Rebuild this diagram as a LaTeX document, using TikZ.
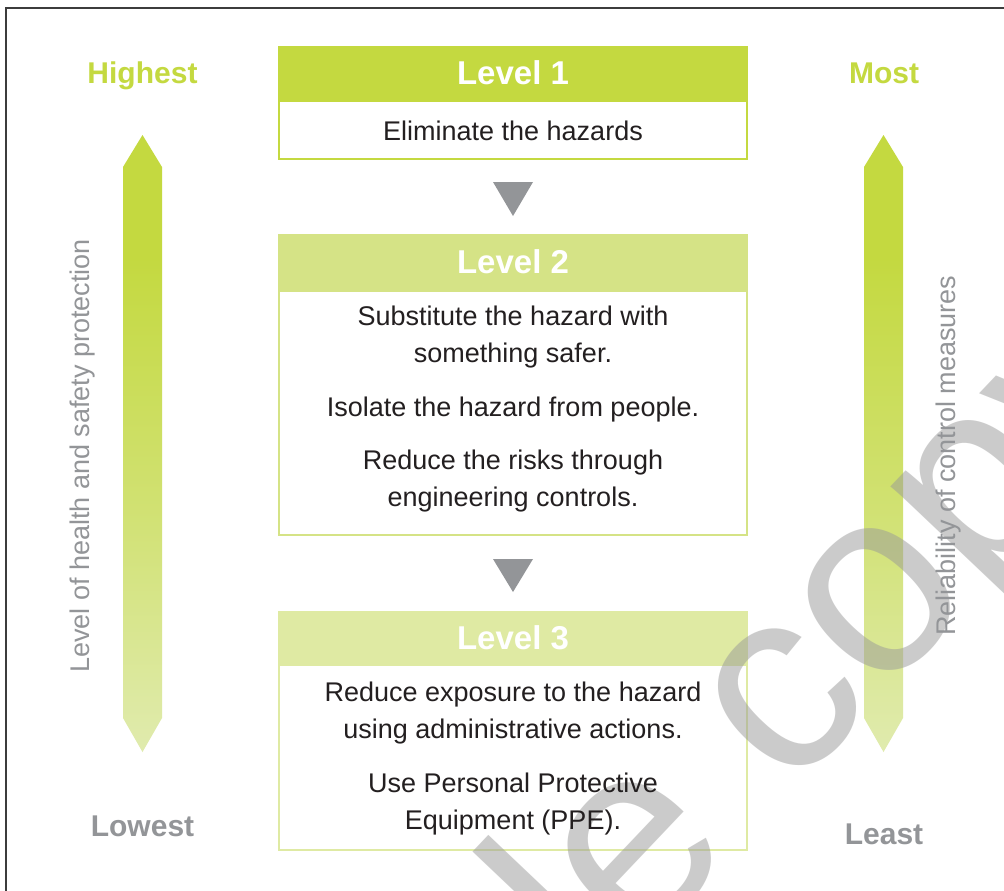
\documentclass[tikz,border=0pt]{standalone}
\usepackage{fontspec}
\setmainfont{Liberation Sans}
\definecolor{lvA}{HTML}{C4D940}
\definecolor{lvB}{HTML}{D5E386}
\definecolor{lvC}{HTML}{DFEAA3}
\definecolor{armlow}{HTML}{E0EBAE}
\definecolor{greytxt}{HTML}{939598}
\definecolor{ink}{HTML}{231F20}
\definecolor{framec}{HTML}{3C3C3C}
\definecolor{wmgrey}{HTML}{999999}
\pgfdeclareverticalshading{armshade}{100bp}{color(0bp)=(armlow); color(25bp)=(armlow); color(45bp)=(lvA!55!armlow); color(65bp)=(lvA); color(100bp)=(lvA)}
\begin{document}
\begin{tikzpicture}[x=1pt,y=-1pt,
  hdr/.style={inner sep=0pt, minimum width=470pt, text=white,
    font=\fontsize{33}{36}\selectfont\bfseries},
  bodybox/.style={inner sep=0pt, minimum width=468pt, line width=2pt, fill=white},
  bodytext/.style={anchor=base, inner sep=0pt, text=ink, font=\fontsize{27}{32}\selectfont},
  endlabel/.style={anchor=base, inner sep=0pt, font=\fontsize{30}{34}\selectfont\bfseries},
  sidelabel/.style={anchor=base, inner sep=0pt, rotate=90, text=greytxt, font=\fontsize{27}{32}\selectfont},
  stepmark/.style={fill=greytxt},
  armpath/.style={shade, shading=armshade},
  wmark/.style={anchor=base, inner sep=0pt, rotate=46.5, text=wmgrey, opacity=0.5,
    font=\fontsize{262}{262}\selectfont}]
\useasboundingbox (0,0) rectangle (1004,891);
\fill[white] (0,0) rectangle (1004,891);

% page frame (top and left edges)
\draw[framec, line width=1.2pt] (1004,8) -- (6,8) -- (6,891);

% vertical double-ended arrows
\path[armpath] (123,167) -- (142.5,135) -- (162,167) -- (162,718) -- (142.5,752) -- (123,718) -- cycle;
\path[armpath] (864,167) -- (883.5,135) -- (903,167) -- (903,718) -- (883.5,752) -- (864,718) -- cycle;

% level boxes: coloured title bar above a framed body
\node[hdr, fill=lvA, minimum height=54pt] (h1) at (513,73) {Level 1};
\node[bodybox, draw=lvA, minimum height=58pt] (b1) at (513,130) {};
\node[hdr, fill=lvB, minimum height=56pt] (h2) at (513,262) {Level 2};
\node[bodybox, draw=lvB, minimum height=244pt] (b2) at (513,413) {};
\node[hdr, fill=lvC, minimum height=53pt] (h3) at (513,637.5) {Level 3};
\node[bodybox, draw=lvC, minimum height=185pt] (b3) at (513,757.5) {};

% step markers between levels
\fill[stepmark] (493,182) -- (533,182) -- (513,216) -- cycle;
\fill[stepmark] (493,559) -- (533,559) -- (513,592) -- cycle;

% watermark
\begin{scope}
\clip (0,0) rectangle (1004,891);
\node[wmark] (wm) at (649,943) {Sample copy};
\end{scope}

% box texts
\node[bodytext] (t1) at (513,140) {Eliminate the hazards};
\node[bodytext] (t2a) at (513,325) {Substitute the hazard with};
\node[bodytext] (t2b) at (513,362) {something safer.};
\node[bodytext] (t2c) at (513,416) {Isolate the hazard from people.};
\node[bodytext] (t2d) at (513,469) {Reduce the risks through};
\node[bodytext] (t2e) at (513,506) {engineering controls.};
\node[bodytext] (t3a) at (513,701) {Reduce exposure to the hazard};
\node[bodytext] (t3b) at (513,738) {using administrative actions.};
\node[bodytext] (t3c) at (513,792) {Use Personal Protective};
\node[bodytext] (t3d) at (513,829) {Equipment (PPE).};

% axis labels
\node[endlabel, text=lvA] (hi) at (142.5,83) {Highest};
\node[endlabel, text=greytxt] (lo) at (142.5,836) {Lowest};
\node[endlabel, text=lvA] (most) at (884,83) {Most};
\node[endlabel, text=greytxt] (least) at (884,844) {Least};
\node[sidelabel] (lhs) at (89,456) {Level of health and safety protection};
\node[sidelabel] (rhs) at (955,455.5) {Reliability of control measures};
\end{tikzpicture}
\end{document}
